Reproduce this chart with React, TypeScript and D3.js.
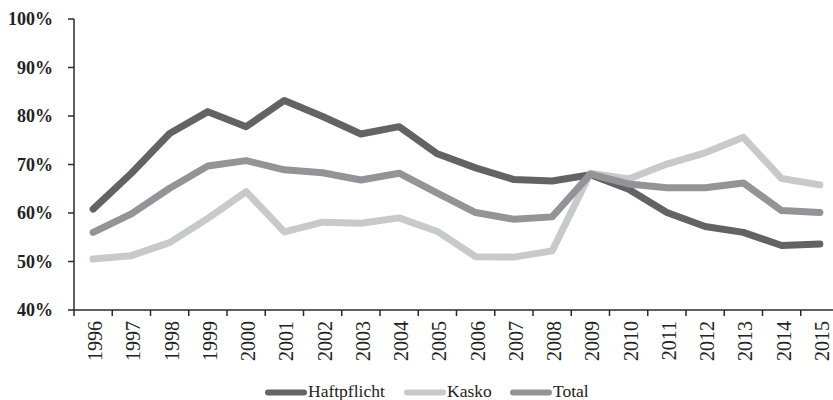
import React from "react";
import * as d3 from "d3";

const years = ["1996","1997","1998","1999","2000","2001","2002","2003","2004","2005","2006","2007","2008","2009","2010","2011","2012","2013","2014","2015"];
const haftpflicht = [60.8, 68.2, 76.4, 80.9, 77.8, 83.2, 79.9, 76.3, 77.8, 72.2, 69.3, 66.9, 66.6, 67.9, 64.9, 60.1, 57.2, 56.0, 53.3, 53.6];
const kasko = [50.5, 51.2, 53.9, 58.9, 64.4, 56.1, 58.1, 57.9, 59.0, 56.2, 51.0, 50.9, 52.2, 68.2, 67.0, 70.1, 72.4, 75.6, 67.1, 65.8];
const total = [56.0, 59.8, 65.1, 69.7, 70.8, 68.9, 68.3, 66.8, 68.2, 64.1, 60.1, 58.7, 59.2, 68.0, 66.0, 65.2, 65.2, 66.2, 60.5, 60.1];
const yTicks = [40, 50, 60, 70, 80, 90, 100];

const seriesList = [
  { name: "Haftpflicht", values: haftpflicht, color: "#636365" },
  { name: "Kasko", values: kasko, color: "#c8c9cb" },
  { name: "Total", values: total, color: "#939497" },
];

export default function App() {
  const W = 833, H = 400;
  const x = d3.scaleBand<string>().domain(years).range([74, 839]).padding(0);
  const y = d3.scaleLinear().domain([40, 100]).range([310, 19]);
  const cx = (yr: string) => (x(yr) as number) + x.bandwidth() / 2;
  const line = d3.line<number>().x((_, i) => cx(years[i])).y((v) => y(v));
  const axisColor = "#2a2a2a";
  const font = "'Liberation Serif', 'Times New Roman', serif";
  const legendItems = [
    { name: "Haftpflicht", x1: 265, x2: 307, color: "#636365" },
    { name: "Kasko", x1: 404, x2: 446, color: "#c8c9cb" },
    { name: "Total", x1: 510, x2: 552, color: "#939497" },
  ];
  return (
    <svg width={W} height={H} style={{ position: "absolute", left: 0, top: 0 }} fontFamily={font}>
      <rect width={W} height={H} fill="#ffffff" />
      {/* y axis */}
      <line x1={74} x2={74} y1={y(100)} y2={y(40)} stroke={axisColor} strokeWidth={1.5} />
      {yTicks.map((t) => (
        <g key={t}>
          <line x1={68} x2={74} y1={y(t)} y2={y(t)} stroke={axisColor} strokeWidth={1.5} />
          <text x={53} y={y(t)} dy="0.35em" textAnchor="end" fontSize={18} fontWeight="bold" fill="#222">
            {t}%
          </text>
        </g>
      ))}
      {/* x axis */}
      <line x1={74} x2={833} y1={y(40)} y2={y(40)} stroke={axisColor} strokeWidth={1.5} />
      {years.map((yr) => (
        <line key={"t" + yr} x1={x(yr) as number} x2={x(yr) as number} y1={y(40)} y2={y(40) + 6} stroke={axisColor} strokeWidth={1.5} />
      ))}
      {years.map((yr) => (
        <text
          key={"l" + yr}
          transform={`translate(${cx(yr) + 9},${321}) rotate(-90)`}
          textAnchor="end"
          fontSize={20}
          fill="#222"
        >
          {yr}
        </text>
      ))}
      {/* lines */}
      {seriesList.map((s) => (
        <path
          key={s.name}
          d={line(s.values) || ""}
          fill="none"
          stroke={s.color}
          strokeWidth={7}
          strokeLinejoin="round"
          strokeLinecap="round"
        />
      ))}
      {/* legend */}
      {legendItems.map((l) => (
        <g key={l.name}>
          <line x1={l.x1 + 3} x2={l.x2 - 3} y1={392.5} y2={392.5} stroke={l.color} strokeWidth={6} strokeLinecap="round" />
          <text x={l.x2 + 1} y={397} fontSize={17.5} fill="#222">
            {l.name}
          </text>
        </g>
      ))}
    </svg>
  );
}
